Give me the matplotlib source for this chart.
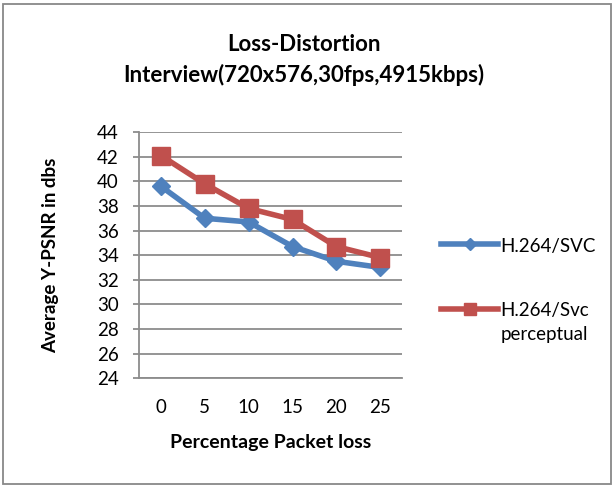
import matplotlib
matplotlib.use("Agg")
import matplotlib.pyplot as plt
from matplotlib.patches import Rectangle

plt.rcParams['font.family'] = ['Lato', 'DejaVu Sans']

# packet loss (%) and average Y-PSNR (dB)
loss = [0, 5, 10, 15, 20, 25]
psnr_svc = [39.6, 37.0, 36.7, 34.7, 33.5, 33.0]
psnr_perceptual = [42.1, 39.8, 37.8, 36.9, 34.7, 33.8]
labels = ["H.264/SVC", "H.264/Svc\nperceptual"]

fig = plt.figure(figsize=(6.15, 4.86), dpi=100)
ax = fig.add_axes([0.226, 0.222, 0.428, 0.506])

grid_c = "#8c8c8c"
x = range(len(loss))
ax.plot(x, psnr_svc, color="#4f81bd", lw=4, marker="D", ms=9, label=labels[0])
ax.plot(x, psnr_perceptual, color="#c0504d", lw=4, marker="s", ms=13, label=labels[1])

ax.set_xlim(-0.5, len(loss) - 0.5)
ax.set_ylim(24, 44)
ax.set_yticks(range(24, 45, 2))
ax.set_xticks(list(x))
ax.set_xticklabels([str(v) for v in loss])
ax.yaxis.grid(True, color=grid_c, lw=1.3)
ax.set_axisbelow(True)
for s in ["top", "right"]:
    ax.spines[s].set_visible(False)
for s in ["left", "bottom"]:
    ax.spines[s].set_color(grid_c)
    ax.spines[s].set_linewidth(1.3)
ax.tick_params(axis="y", length=4.5, width=1.3, color=grid_c, labelsize=13.5, pad=10)
ax.tick_params(axis="x", length=0, labelsize=13.5, pad=15)

ax.set_xlabel("Percentage Packet loss", fontsize=14, fontweight="bold", labelpad=13)
ax.set_ylabel("Average Y-PSNR in dbs", fontsize=13.5, fontweight="bold", labelpad=27)
ax.set_title("Loss-Distortion\nInterview(720x576,30fps,4915kbps)", fontsize=16,
             fontweight="bold", linespacing=1.5, pad=36, x=0.625)

leg = ax.legend(loc="upper left", bbox_to_anchor=(1.085, 0.64), frameon=False,
                fontsize=13.5, handlelength=3.0, handletextpad=0.15, labelspacing=2.55)
leg.legend_handles[0].set_markersize(6)
leg.legend_handles[1].set_markersize(9)
for t in leg.get_texts():
    t.set_linespacing(1.5)
# keep the line next to the first row of a two-line label
for col in leg._legend_handle_box.get_children():
    for row in col.get_children():
        row.align = "top"

fig.add_artist(Rectangle((0.005, 0.004), 0.988, 0.988, transform=fig.transFigure,
                         fill=False, ec="#888888", lw=1.3))

fig.savefig("out.png", dpi=100)
